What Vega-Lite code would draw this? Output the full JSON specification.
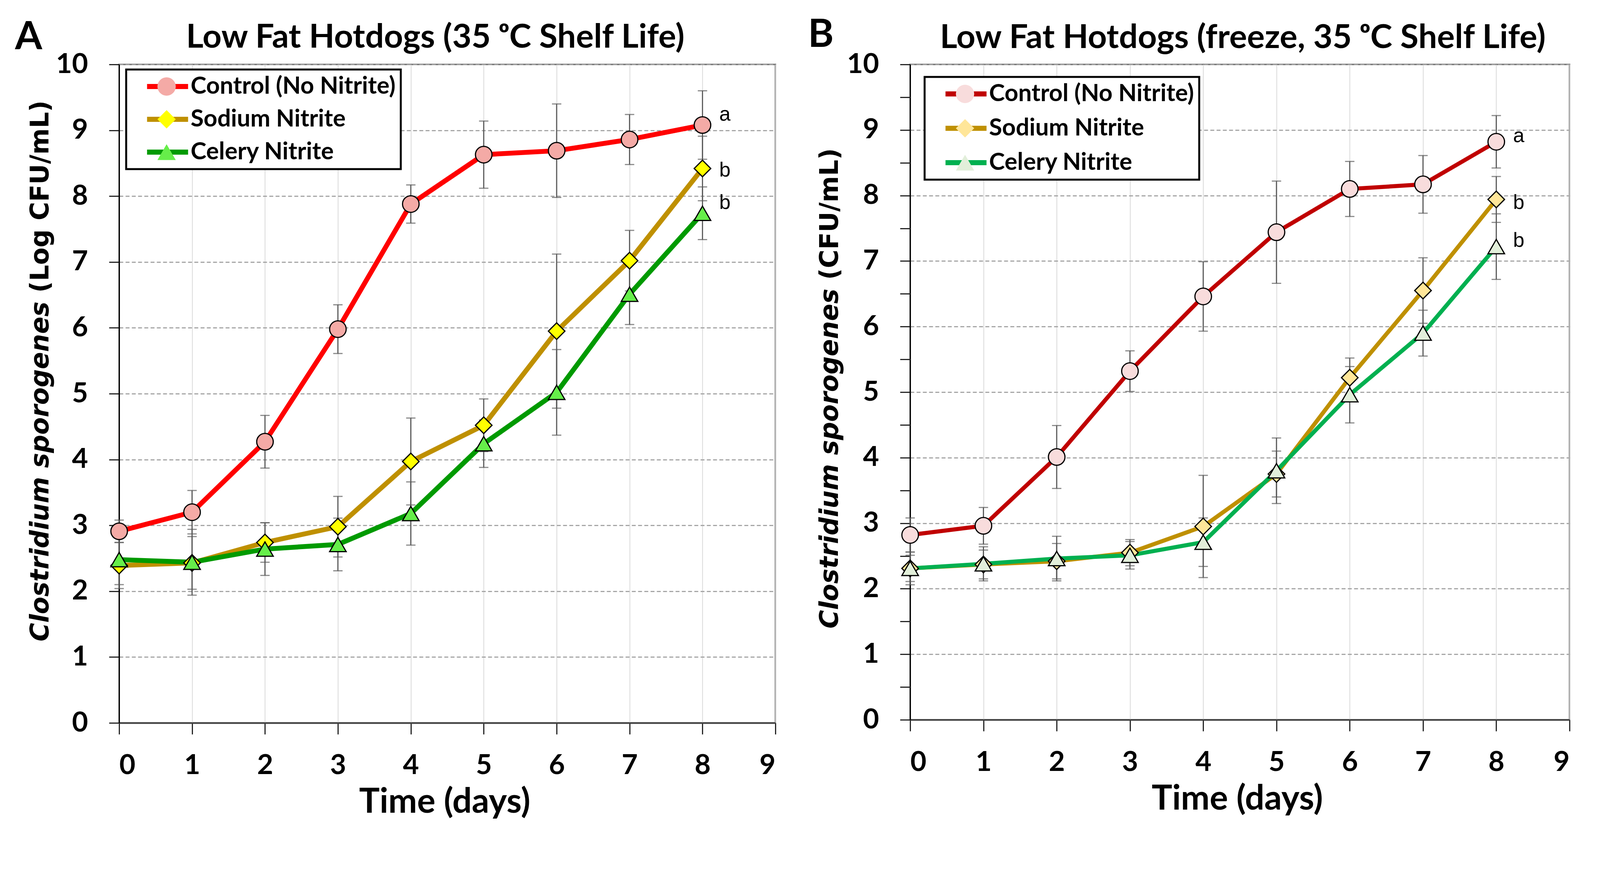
{
  "$schema": "https://vega.github.io/schema/vega-lite/v6.json",
  "background": "white",
  "padding": {"left": 36, "top": 37, "right": 20, "bottom": 10},
  "data": {"values": [
    {"panel": "A", "series": "Control (No Nitrite)", "day": 0, "mean": 2.91, "sd": 0.17},
    {"panel": "A", "series": "Control (No Nitrite)", "day": 1, "mean": 3.20, "sd": 0.33},
    {"panel": "A", "series": "Control (No Nitrite)", "day": 2, "mean": 4.27, "sd": 0.40},
    {"panel": "A", "series": "Control (No Nitrite)", "day": 3, "mean": 5.98, "sd": 0.37},
    {"panel": "A", "series": "Control (No Nitrite)", "day": 4, "mean": 7.88, "sd": 0.29},
    {"panel": "A", "series": "Control (No Nitrite)", "day": 5, "mean": 8.63, "sd": 0.51},
    {"panel": "A", "series": "Control (No Nitrite)", "day": 6, "mean": 8.69, "sd": 0.71},
    {"panel": "A", "series": "Control (No Nitrite)", "day": 7, "mean": 8.86, "sd": 0.38},
    {"panel": "A", "series": "Control (No Nitrite)", "day": 8, "mean": 9.08, "sd": 0.52, "sig": "a"},
    {"panel": "A", "series": "Sodium Nitrite", "day": 0, "mean": 2.39, "sd": 0.35},
    {"panel": "A", "series": "Sodium Nitrite", "day": 1, "mean": 2.43, "sd": 0.40},
    {"panel": "A", "series": "Sodium Nitrite", "day": 2, "mean": 2.74, "sd": 0.30},
    {"panel": "A", "series": "Sodium Nitrite", "day": 3, "mean": 2.98, "sd": 0.46},
    {"panel": "A", "series": "Sodium Nitrite", "day": 4, "mean": 3.97, "sd": 0.66},
    {"panel": "A", "series": "Sodium Nitrite", "day": 5, "mean": 4.52, "sd": 0.40},
    {"panel": "A", "series": "Sodium Nitrite", "day": 6, "mean": 5.95, "sd": 1.17},
    {"panel": "A", "series": "Sodium Nitrite", "day": 7, "mean": 7.02, "sd": 0.46},
    {"panel": "A", "series": "Sodium Nitrite", "day": 8, "mean": 8.42, "sd": 0.49, "sig": "b"},
    {"panel": "A", "series": "Celery Nitrite", "day": 0, "mean": 2.48, "sd": 0.38},
    {"panel": "A", "series": "Celery Nitrite", "day": 1, "mean": 2.44, "sd": 0.50},
    {"panel": "A", "series": "Celery Nitrite", "day": 2, "mean": 2.64, "sd": 0.40},
    {"panel": "A", "series": "Celery Nitrite", "day": 3, "mean": 2.71, "sd": 0.40},
    {"panel": "A", "series": "Celery Nitrite", "day": 4, "mean": 3.18, "sd": 0.48},
    {"panel": "A", "series": "Celery Nitrite", "day": 5, "mean": 4.24, "sd": 0.36},
    {"panel": "A", "series": "Celery Nitrite", "day": 6, "mean": 5.02, "sd": 0.65},
    {"panel": "A", "series": "Celery Nitrite", "day": 7, "mean": 6.51, "sd": 0.46},
    {"panel": "A", "series": "Celery Nitrite", "day": 8, "mean": 7.74, "sd": 0.40, "sig": "b"},
    {"panel": "B", "series": "Control (No Nitrite)", "day": 0, "mean": 2.82, "sd": 0.26},
    {"panel": "B", "series": "Control (No Nitrite)", "day": 1, "mean": 2.96, "sd": 0.28},
    {"panel": "B", "series": "Control (No Nitrite)", "day": 2, "mean": 4.01, "sd": 0.48},
    {"panel": "B", "series": "Control (No Nitrite)", "day": 3, "mean": 5.32, "sd": 0.31},
    {"panel": "B", "series": "Control (No Nitrite)", "day": 4, "mean": 6.46, "sd": 0.53},
    {"panel": "B", "series": "Control (No Nitrite)", "day": 5, "mean": 7.44, "sd": 0.78},
    {"panel": "B", "series": "Control (No Nitrite)", "day": 6, "mean": 8.10, "sd": 0.42},
    {"panel": "B", "series": "Control (No Nitrite)", "day": 7, "mean": 8.17, "sd": 0.44},
    {"panel": "B", "series": "Control (No Nitrite)", "day": 8, "mean": 8.82, "sd": 0.40, "sig": "a"},
    {"panel": "B", "series": "Sodium Nitrite", "day": 0, "mean": 2.31, "sd": 0.20},
    {"panel": "B", "series": "Sodium Nitrite", "day": 1, "mean": 2.37, "sd": 0.22},
    {"panel": "B", "series": "Sodium Nitrite", "day": 2, "mean": 2.42, "sd": 0.27},
    {"panel": "B", "series": "Sodium Nitrite", "day": 3, "mean": 2.55, "sd": 0.20},
    {"panel": "B", "series": "Sodium Nitrite", "day": 4, "mean": 2.95, "sd": 0.78},
    {"panel": "B", "series": "Sodium Nitrite", "day": 5, "mean": 3.75, "sd": 0.35},
    {"panel": "B", "series": "Sodium Nitrite", "day": 6, "mean": 5.22, "sd": 0.30},
    {"panel": "B", "series": "Sodium Nitrite", "day": 7, "mean": 6.55, "sd": 0.50},
    {"panel": "B", "series": "Sodium Nitrite", "day": 8, "mean": 7.94, "sd": 0.35, "sig": "b"},
    {"panel": "B", "series": "Celery Nitrite", "day": 0, "mean": 2.31, "sd": 0.25},
    {"panel": "B", "series": "Celery Nitrite", "day": 1, "mean": 2.38, "sd": 0.26},
    {"panel": "B", "series": "Celery Nitrite", "day": 2, "mean": 2.46, "sd": 0.34},
    {"panel": "B", "series": "Celery Nitrite", "day": 3, "mean": 2.51, "sd": 0.21},
    {"panel": "B", "series": "Celery Nitrite", "day": 4, "mean": 2.71, "sd": 0.37},
    {"panel": "B", "series": "Celery Nitrite", "day": 5, "mean": 3.80, "sd": 0.50},
    {"panel": "B", "series": "Celery Nitrite", "day": 6, "mean": 4.96, "sd": 0.43},
    {"panel": "B", "series": "Celery Nitrite", "day": 7, "mean": 5.90, "sd": 0.35},
    {"panel": "B", "series": "Celery Nitrite", "day": 8, "mean": 7.22, "sd": 0.50, "sig": "b"}
  ]},
  "spacing": 77,
  "hconcat": [
    {
      "width": 1680,
      "height": 1686,
      "transform": [{"filter": "datum.panel === 'A'"}],
      "layer": [
        {
          "mark": {"type": "errorbar", "color": "#595959", "thickness": 2.9, "ticks": {"size": 24}},
          "encoding": {
            "x": {"field": "day", "type": "quantitative", "axis": null, "scale": {"domain": [0, 9], "nice": false}},
            "y": {"field": "mean", "type": "quantitative", "axis": null, "scale": {"domain": [0, 10], "nice": false}},
            "yError": {"field": "sd"}
          }
        },
        {
          "mark": {"type": "line", "strokeWidth": 12.5, "opacity": 1},
          "encoding": {
            "x": {"field": "day", "type": "quantitative", "axis": {"orient": "top", "labels": false, "ticks": false, "domain": false, "grid": false, "title": "Low Fat Hotdogs (35 ᵒC Shelf Life)", "titleFontSize": 85, "titleAngle": 0, "titleAlign": "center", "titleBaseline": "alphabetic", "titleX": 809, "titleY": -44}},
            "y": {"field": "mean", "type": "quantitative", "axis": {"orient": "left", "labels": false, "ticks": false, "domain": false, "grid": false, "title": "(Log CFU/mL)", "titleFont": "DejaVu Sans", "titleFontSize": 65, "titleAngle": 270, "titleAlign": "left", "titleBaseline": "alphabetic", "titleX": -182, "titleY": 584}},
            "color": {
              "field": "series", "type": "nominal",
              "sort": ["Control (No Nitrite)", "Sodium Nitrite", "Celery Nitrite"],
              "scale": {"range": ["#FF0000", "#BF9000", "#009A00"]},
              "legend": {"orient": "none", "legendX": 18, "legendY": 13, "title": null, "symbolType": "M-2.5,0H2.5", "symbolSize": 1764, "symbolStrokeWidth": 13, "symbolOffset": 62.5, "padding": 13, "rowPadding": 22, "labelOffset": 28.5, "strokeColor": "black", "fillColor": "white"}
            }
          }
        },
        {
          "mark": {"type": "point", "filled": true, "size": 1800, "stroke": "black", "strokeWidth": 3, "opacity": 1},
          "encoding": {
            "x": {"field": "day", "type": "quantitative", "axis": {"orient": "bottom", "values": [0, 1, 2, 3, 4, 5, 6, 7, 8, 9], "grid": true, "gridColor": "#D9D9D9", "gridWidth": 2, "tickSize": 29, "labelBaseline": "alphabetic", "labelPadding": 101, "domainColor": "#404040", "domainWidth": 4, "title": "Time (days)", "titleFontSize": 88, "titleAlign": "center", "titleBaseline": "alphabetic", "titleX": 833, "titleY": 229}},
            "y": {"field": "mean", "type": "quantitative", "axis": {"orient": "left", "values": [0, 1, 2, 3, 4, 5, 6, 7, 8, 9, 10], "grid": true, "gridColor": "#A6A6A6", "gridDash": [10, 6], "gridWidth": 3, "tickSize": 26, "labelPadding": 54, "domainColor": "black", "title": "Clostridium sporogenes", "titleFont": "DejaVu Sans", "titleFontStyle": "italic", "titleFontSize": 65, "titleAngle": 270, "titleAlign": "left", "titleBaseline": "alphabetic", "titleX": -182, "titleY": 1477}},
            "fill": {
              "field": "series", "type": "nominal",
              "scale": {"domain": ["Control (No Nitrite)", "Sodium Nitrite", "Celery Nitrite"], "range": ["#F4AAA6", "#FFFF00", "#66EE4A"]},
              "legend": {"orient": "none", "legendX": 18, "legendY": 13, "title": null, "symbolSize": 2200, "symbolStrokeColor": "black", "symbolStrokeWidth": 3, "symbolOffset": 60, "padding": 13, "rowPadding": 22, "labelOpacity": 0, "labelExpr": "' '"}
            },
            "shape": {
              "field": "series", "type": "nominal",
              "scale": {"domain": ["Control (No Nitrite)", "Sodium Nitrite", "Celery Nitrite"], "range": ["circle", "diamond", "triangle-up"]},
              "legend": {"orient": "none", "legendX": 18, "legendY": 13, "title": null, "symbolSize": 2200, "symbolStrokeColor": "black", "symbolStrokeWidth": 3, "symbolOffset": 60, "padding": 13, "rowPadding": 22, "labelOpacity": 0, "labelExpr": "' '"}
            }
          }
        },
        {
          "transform": [{"filter": "datum.sig && datum.series !== 'Sodium Nitrite'"}],
          "mark": {"type": "text", "align": "left", "baseline": "middle", "dx": 43, "dy": -27, "fontSize": 52, "font": "Liberation Sans", "color": "black"},
          "encoding": {
            "x": {"field": "day", "type": "quantitative", "axis": {"orient": "top", "labels": false, "ticks": false, "domain": false, "grid": false, "title": "A", "titleFontSize": 100, "titleAngle": 0, "titleAlign": "left", "titleBaseline": "alphabetic", "titleX": -267, "titleY": -40}},
            "y": {"field": "mean", "type": "quantitative", "axis": null},
            "text": {"field": "sig"}
          }
        },
        {
          "transform": [{"filter": "datum.sig && datum.series === 'Sodium Nitrite'"}],
          "mark": {"type": "text", "align": "left", "baseline": "middle", "dx": 43, "dy": 5, "fontSize": 52, "font": "Liberation Sans", "color": "black"},
          "encoding": {
            "x": {"field": "day", "type": "quantitative", "axis": null},
            "y": {"field": "mean", "type": "quantitative", "axis": null},
            "text": {"field": "sig"}
          }
        }
      ],
      "resolve": {"axis": {"x": "independent", "y": "independent"}}
    },
    {
      "width": 1688,
      "height": 1678,
      "transform": [{"filter": "datum.panel === 'B'"}],
      "layer": [
        {
          "mark": {"type": "errorbar", "color": "#595959", "thickness": 2.9, "ticks": {"size": 24}},
          "encoding": {
            "x": {"field": "day", "type": "quantitative", "axis": null, "scale": {"domain": [0, 9], "nice": false}},
            "y": {"field": "mean", "type": "quantitative", "axis": null, "scale": {"domain": [0, 10], "nice": false}},
            "yError": {"field": "sd"}
          }
        },
        {
          "mark": {"type": "line", "strokeWidth": 10.5, "opacity": 1},
          "encoding": {
            "x": {"field": "day", "type": "quantitative", "axis": {"orient": "top", "labels": false, "ticks": false, "domain": false, "grid": false, "title": "Low Fat Hotdogs (freeze, 35 ᵒC Shelf Life)", "titleFontSize": 85, "titleAngle": 0, "titleAlign": "center", "titleBaseline": "alphabetic", "titleX": 851, "titleY": -43}},
            "y": {"field": "mean", "type": "quantitative", "axis": {"orient": "left", "labels": false, "ticks": false, "domain": false, "grid": false, "title": "(CFU/mL)", "titleFont": "DejaVu Sans", "titleFontSize": 65, "titleAngle": 270, "titleAlign": "left", "titleBaseline": "alphabetic", "titleX": -186, "titleY": 551}},
            "color": {
              "field": "series", "type": "nominal",
              "sort": ["Control (No Nitrite)", "Sodium Nitrite", "Celery Nitrite"],
              "scale": {"range": ["#C00000", "#BF9000", "#00B050"]},
              "legend": {"orient": "none", "legendX": 37, "legendY": 32, "title": null, "symbolType": "M-2.5,0H2.5", "symbolSize": 1764, "symbolStrokeWidth": 13, "symbolOffset": 62.5, "padding": 13, "rowPadding": 26, "labelOffset": 28.5, "strokeColor": "black", "fillColor": "white"}
            }
          }
        },
        {
          "mark": {"type": "point", "filled": true, "size": 1800, "stroke": "black", "strokeWidth": 3, "opacity": 1},
          "encoding": {
            "x": {"field": "day", "type": "quantitative", "axis": {"orient": "bottom", "values": [0, 1, 2, 3, 4, 5, 6, 7, 8, 9], "grid": true, "gridColor": "#D9D9D9", "gridWidth": 2, "tickSize": 29, "labelBaseline": "alphabetic", "labelPadding": 101, "domainColor": "#404040", "domainWidth": 4, "title": "Time (days)", "titleFontSize": 88, "titleAlign": "center", "titleBaseline": "alphabetic", "titleX": 837, "titleY": 229}},
            "y": {"field": "mean", "type": "quantitative", "axis": {"orient": "left", "values": [0, 1, 2, 3, 4, 5, 6, 7, 8, 9, 10], "grid": true, "gridColor": "#A6A6A6", "gridDash": [10, 6], "gridWidth": 3, "tickSize": 26, "labelPadding": 54, "domainColor": "black", "title": "Clostridium sporogenes", "titleFont": "DejaVu Sans", "titleFontStyle": "italic", "titleFontSize": 65, "titleAngle": 270, "titleAlign": "left", "titleBaseline": "alphabetic", "titleX": -186, "titleY": 1444}},
            "fill": {
              "field": "series", "type": "nominal",
              "scale": {"domain": ["Control (No Nitrite)", "Sodium Nitrite", "Celery Nitrite"], "range": ["#F8DCDC", "#FFE699", "#E2EFDA"]},
              "legend": {"orient": "none", "legendX": 37, "legendY": 32, "title": null, "symbolSize": 2200, "symbolStrokeColor": "black", "symbolStrokeWidth": 3, "symbolOffset": 60, "padding": 13, "rowPadding": 26, "labelOpacity": 0, "labelExpr": "' '"}
            },
            "shape": {
              "field": "series", "type": "nominal",
              "scale": {"domain": ["Control (No Nitrite)", "Sodium Nitrite", "Celery Nitrite"], "range": ["circle", "diamond", "triangle-up"]},
              "legend": {"orient": "none", "legendX": 37, "legendY": 32, "title": null, "symbolSize": 2200, "symbolStrokeColor": "black", "symbolStrokeWidth": 3, "symbolOffset": 60, "padding": 13, "rowPadding": 26, "labelOpacity": 0, "labelExpr": "' '"}
            }
          }
        },
        {
          "transform": [{"filter": "datum.sig && datum.series !== 'Sodium Nitrite'"}],
          "mark": {"type": "text", "align": "left", "baseline": "middle", "dx": 43, "dy": -15, "fontSize": 52, "font": "Liberation Sans", "color": "black"},
          "encoding": {
            "x": {"field": "day", "type": "quantitative", "axis": {"orient": "top", "labels": false, "ticks": false, "domain": false, "grid": false, "title": "B", "titleFontSize": 100, "titleAngle": 0, "titleAlign": "left", "titleBaseline": "alphabetic", "titleX": -262, "titleY": -46}},
            "y": {"field": "mean", "type": "quantitative", "axis": null},
            "text": {"field": "sig"}
          }
        },
        {
          "transform": [{"filter": "datum.sig && datum.series === 'Sodium Nitrite'"}],
          "mark": {"type": "text", "align": "left", "baseline": "middle", "dx": 43, "dy": 8, "fontSize": 52, "font": "Liberation Sans", "color": "black"},
          "encoding": {
            "x": {"field": "day", "type": "quantitative", "axis": null},
            "y": {"field": "mean", "type": "quantitative", "axis": {"orient": "left", "values": [0.5, 1.5, 2.5, 3.5, 4.5, 5.5, 6.5, 7.5, 8.5, 9.5], "labels": false, "domain": false, "grid": false, "ticks": true, "tickSize": 26, "title": null}},
            "text": {"field": "sig"}
          }
        }
      ],
      "resolve": {"axis": {"x": "independent", "y": "independent"}}
    }
  ],
  "resolve": {
    "scale": {"color": "independent", "fill": "independent", "shape": "independent"},
    "legend": {"color": "independent", "fill": "independent", "shape": "independent"}
  },
  "config": {
    "font": "Lato",
    "view": {"stroke": "#7F7F7F", "strokeWidth": 4},
    "axis": {
      "labelFont": "Lato", "labelFontWeight": "bold", "labelFontSize": 71, "labelColor": "black",
      "titleFont": "Lato", "titleFontWeight": "bold", "titleColor": "black",
      "tickColor": "#262626", "tickWidth": 3, "domainColor": "#262626", "domainWidth": 3
    },
    "legend": {
      "labelFont": "Lato", "labelFontWeight": "bold", "labelFontSize": 61, "labelColor": "black", "labelLimit": 2000,
      "strokeWidth": 5
    }
  }
}
